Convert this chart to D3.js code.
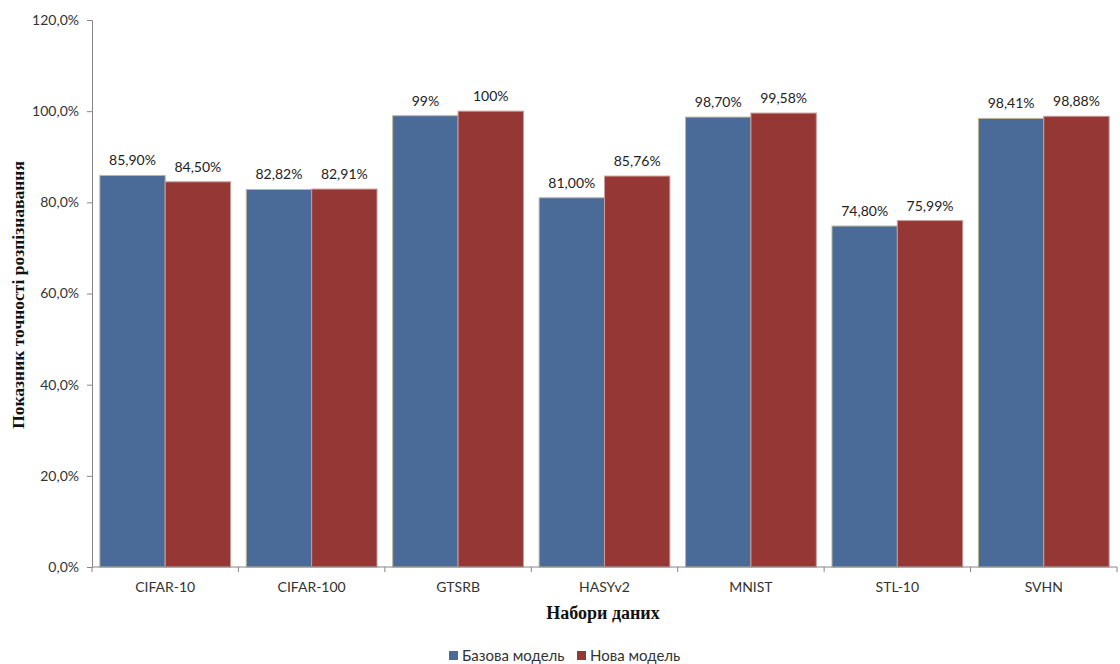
<!DOCTYPE html>
<html>
<head>
<meta charset="utf-8">
<script src="https://cdn.jsdelivr.net/npm/d3@7"></script>
<style>
  html, body { margin: 0; padding: 0; background: #fff; }
  svg { display: block; }
</style>
</head>
<body>
<svg id="chart" width="1120" height="664"></svg>
<script>
// Recognition accuracy per dataset, base model vs. new model (%)
const datasets = ["CIFAR-10", "CIFAR-100", "GTSRB", "HASYv2", "MNIST", "STL-10", "SVHN"];
const baseModel = [85.90, 82.82, 99, 81.00, 98.70, 74.80, 98.41];
const newModel  = [84.50, 82.91, 100, 85.76, 99.58, 75.99, 98.88];
const baseLabels = ["85,90%", "82,82%", "99%", "81,00%", "98,70%", "74,80%", "98,41%"];
const newLabels  = ["84,50%", "82,91%", "100%", "85,76%", "99,58%", "75,99%", "98,88%"];
const seriesNames = ["Базова модель", "Нова модель"];
const yTicks = [0, 20, 40, 60, 80, 100, 120];

const colors = ["#4a6a98", "#953735"];
const strokes = ["#bcb796", "#c89a98"];
const labelFont = "Lato, 'Open Sans', sans-serif";

const svg = d3.select("#chart");
const m = { left: 92, right: 1117, top: 20, bottom: 567 };

const x = d3.scaleBand().domain(datasets).range([m.left, m.right]).paddingInner(0).paddingOuter(0);
const x1 = d3.scaleBand().domain([0, 1]).range([0, x.bandwidth()]).paddingOuter(0.12).paddingInner(0);
const y = d3.scaleLinear().domain([0, 120]).range([m.bottom, m.top]);

const series = [baseModel, newModel];
const labels = [baseLabels, newLabels];

// Bars with value labels
series.forEach((vals, s) => {
  svg.append("g").selectAll("rect")
    .data(vals)
    .join("rect")
    .attr("x", (d, i) => x(datasets[i]) + x1(s))
    .attr("y", d => y(d))
    .attr("width", x1.bandwidth())
    .attr("height", d => y(0) - y(d))
    .attr("fill", colors[s])
    .attr("stroke", strokes[s])
    .attr("stroke-width", 1);

  svg.append("g").selectAll("text")
    .data(vals)
    .join("text")
    .attr("x", (d, i) => x(datasets[i]) + x1(s) + x1.bandwidth() / 2)
    .attr("y", d => y(d) - 10)
    .attr("text-anchor", "middle")
    .attr("font-family", labelFont)
    .attr("font-size", 14)
    .attr("fill", "#222")
    .text((d, i) => labels[s][i]);
});

// Y axis
const yAxis = d3.axisLeft(y).tickValues(yTicks).tickSize(5).tickPadding(8)
  .tickFormat(d => d3.format(".1f")(d).replace(".", ",") + "%");
const gy = svg.append("g").attr("transform", `translate(${m.left},0)`).call(yAxis);
gy.select(".domain").attr("stroke", "#868686");
gy.selectAll(".tick line").attr("stroke", "#868686");
gy.selectAll(".tick text").attr("font-family", labelFont).attr("font-size", 14).attr("fill", "#333");

// X axis: category labels centred, ticks on band boundaries
const gx = svg.append("g").attr("transform", `translate(0,${m.bottom})`);
gx.append("line").attr("x1", m.left).attr("x2", m.right).attr("stroke", "#868686");
const bounds = datasets.map(d => x(d)).concat([m.right]);
gx.selectAll("line.tk").data(bounds).join("line").attr("class", "tk")
  .attr("x1", d => d).attr("x2", d => d).attr("y1", 0).attr("y2", 5).attr("stroke", "#868686");
gx.selectAll("text").data(datasets).join("text")
  .attr("x", d => x(d) + x.bandwidth() / 2)
  .attr("y", 25)
  .attr("text-anchor", "middle")
  .attr("font-family", labelFont)
  .attr("font-size", 14)
  .attr("fill", "#333")
  .text(d => d);

// Axis titles
svg.append("text")
  .attr("x", 603).attr("y", 619)
  .attr("text-anchor", "middle")
  .attr("font-family", "'Liberation Serif', 'Times New Roman', serif")
  .attr("font-weight", "bold").attr("font-size", 18).attr("fill", "#111")
  .text("Набори даних");

svg.append("text")
  .attr("transform", "translate(24,295) rotate(-90)")
  .attr("text-anchor", "middle")
  .attr("font-family", "'Liberation Serif', 'Times New Roman', serif")
  .attr("font-weight", "bold").attr("font-size", 17.5).attr("fill", "#111")
  .text("Показник точності розпізнавання");

// Legend
const legendPos = [449, 577];
seriesNames.forEach((name, s) => {
  const g = svg.append("g").attr("transform", `translate(${legendPos[s]},656)`);
  g.append("rect").attr("x", 0).attr("y", -5).attr("width", 9).attr("height", 9).attr("fill", colors[s]);
  g.append("text").attr("x", 13).attr("y", 5)
    .attr("font-family", labelFont).attr("font-size", 15).attr("fill", "#333")
    .text(name);
});
</script>
</body>
</html>
